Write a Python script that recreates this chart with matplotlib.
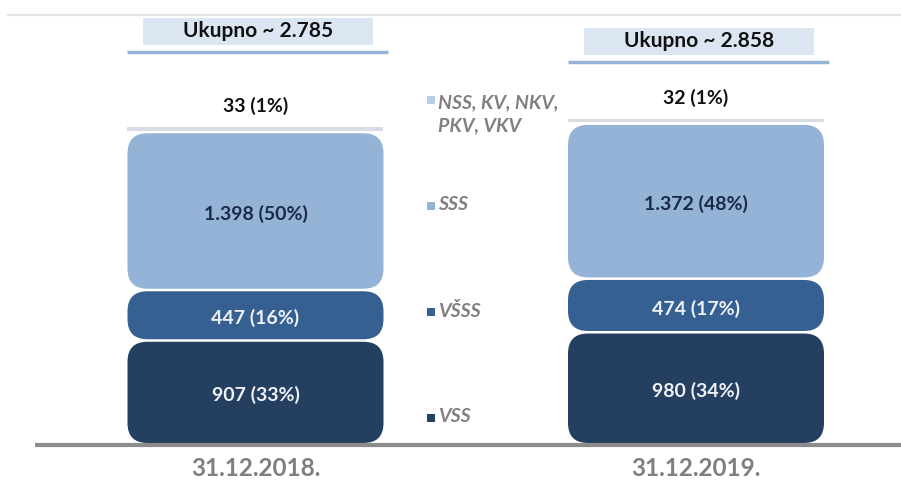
import matplotlib.pyplot as plt
from matplotlib.patches import FancyBboxPatch, Rectangle

plt.rcParams['font.family'] = ['Lato', 'DejaVu Sans']

# data
dates = ['31.12.2018.', '31.12.2019.']
categories = ['VSS', 'VŠSS', 'SSS', 'NSS, KV, NKV,\nPKV, VKV']
vss = [907, 980]
vsss = [447, 474]
sss = [1398, 1372]
nss = [33, 32]
totals = [2785, 2858]

colors = ['#243f60', '#376092', '#95b3d7', '#d9dde3']
legend_colors = ['#243f60', '#376092', '#95b3d7', '#b9cde5']
label_colors = ['#eef2f8', '#eef2f8', '#1b2a47', '#111111']

# layout (pixels)
W, H = 901, 491
BASE_PX = 443          # baseline row
PX_PER_UNIT = 0.113    # vertical pixels per employee
X_PX = [255.5, 696]    # bar centres
PX_PER_X = X_PX[1] - X_PX[0]
BAR_PX = 256
GAP_PX = 2.5
ROUND_PX = 20


def uy(px):
    return px / PX_PER_UNIT


def ux(px):
    return px / PX_PER_X


def row(py):
    return (BASE_PX - py) / PX_PER_UNIT


fig = plt.figure(figsize=(W / 100, H / 100), dpi=100)
ax = fig.add_axes([0, 0, 1, 1])
ax.set_xlim(-ux(X_PX[0]), 1 + ux(W - X_PX[1]))
ax.set_ylim(-uy(H - BASE_PX), uy(BASE_PX))
ax.axis('off')

aspect = PX_PER_X / PX_PER_UNIT
bar_w = ux(BAR_PX)
gap = uy(GAP_PX)

series = [vss, vsss, sss, nss]
for i, date in enumerate(dates):
    bottom = 0
    for k, vals in enumerate(series):
        v = vals[i]
        x0 = i - bar_w / 2
        if k < 3:
            y0 = bottom + (gap / 2 if k > 0 else 0)
            h = v - gap / 2 - (gap / 2 if k > 0 else 0)
            ax.add_patch(FancyBboxPatch((x0, y0), bar_w, h,
                                        boxstyle=f"round,pad=0,rounding_size={ux(ROUND_PX)}",
                                        mutation_aspect=aspect, fc=colors[k], ec='none'))
            pct = round(v / totals[i] * 100)
            ax.text(i, bottom + v / 2 - uy(3), f"{v:,} ({pct}%)".replace(',', '.'),
                    ha='center', va='center', fontsize=14, fontweight='bold',
                    color=label_colors[k])
        else:
            # thin top slice, value label sits above it
            ax.add_patch(Rectangle((x0, bottom + uy(1.5)), bar_w, v,
                                   fc=colors[k], ec='none'))
            pct = round(v / totals[i] * 100)
            ax.text(i, bottom + v + uy(22), f"{v} ({pct}%)",
                    ha='center', va='center', fontsize=14, fontweight='bold',
                    color=label_colors[k])
        bottom += v

    # total box with a rule underneath
    box_top = bottom + v + uy([73, 54][i])
    ax.plot([i - ux(128), i + ux(133)], [box_top, box_top], color='#95b3d7', lw=2.5,
            solid_capstyle='butt')
    ax.add_patch(Rectangle((i - ux(112), box_top + uy(7)), ux(230), uy(27),
                           fc='#dce6f2', ec='none'))
    ax.text(i + ux(3), box_top + uy(21), f"Ukupno ~ {totals[i]:,}".replace(',', '.'),
            ha='center', va='center', fontsize=15, fontweight='bold', color='#111111')

    ax.text(i, row(468), date, ha='center', va='center', fontsize=17.5,
            fontweight='bold', color='#7f7f7f')

# baseline and faint top rule
ax.plot([ux(35 - X_PX[0]), 1 + ux(W - X_PX[1])], [-uy(1.5), -uy(1.5)],
        color='#8c8c8c', lw=3, solid_capstyle='butt')
ax.plot([ux(8 - X_PX[0]), 1 + ux(W - X_PX[1])], [row(15), row(15)],
        color='#e4e4e4', lw=1.5, zorder=0)

# legend down the middle
legend_rows = [418, 312, 206, 100]
for k, cat in enumerate(categories):
    y = row(legend_rows[k])
    ax.add_patch(Rectangle((ux(427 - X_PX[0]), y - uy(4)), ux(8), uy(8),
                           fc=legend_colors[k], ec='none'))
    text_y = y + uy(1) if '\n' not in cat else y - uy(14)
    ax.text(ux(438 - X_PX[0]), text_y, cat, ha='left', va='center',
            fontsize=14, fontweight='bold', fontstyle='italic', color='#808080',
            linespacing=1.4)

fig.savefig('out.png', dpi=100)
